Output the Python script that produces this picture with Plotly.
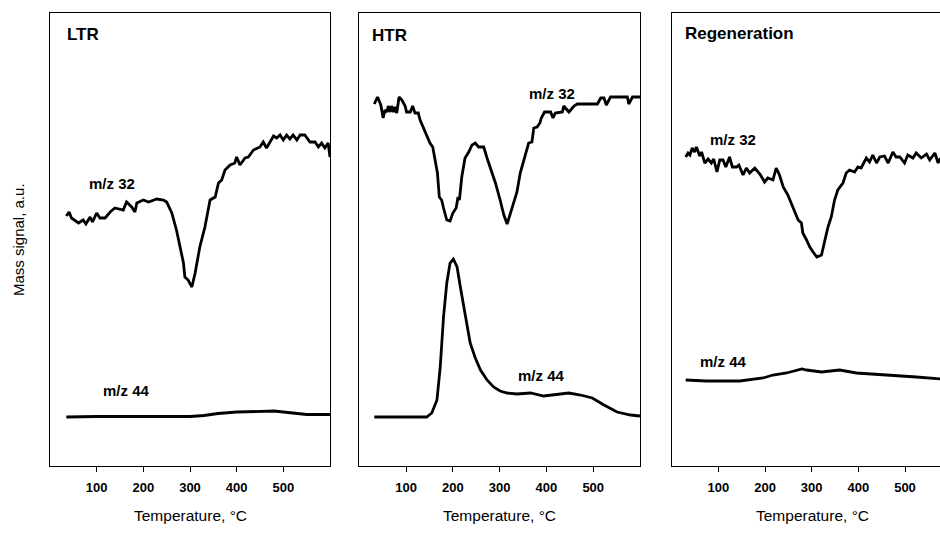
import plotly.graph_objects as go

# ---------------- data (temperature in °C, mass signal in a.u.) ----------------
ltr_t32 = [35, 41, 46, 61, 71, 77, 86, 91, 100, 107, 118, 129, 139, 157, 164, 175, 182, 186, 200, 211,
           229, 243, 250, 261, 271, 279, 286, 289, 296, 304, 311, 321, 332, 343, 354, 361, 368, 375, 386,
           396, 400, 407, 418, 425, 436, 450, 457, 464, 471, 479, 486, 493, 500, 507, 514, 521, 529, 536,
           546, 557, 568, 575, 582, 589, 596, 600]
ltr_s32 = [250, 254, 248, 243, 246, 242, 249, 244, 253, 248, 248, 254, 258, 256, 264, 259, 254, 263, 266, 264,
           267, 266, 264, 253, 236, 219, 203, 189, 186, 179, 193, 219, 239, 266, 269, 283, 286, 296, 301,
           303, 309, 301, 308, 309, 316, 319, 324, 318, 324, 330, 328, 331, 326, 331, 327, 331, 326, 331,
           331, 324, 324, 319, 323, 318, 323, 309]
ltr_t44 = [35, 100, 200, 300, 330, 360, 400, 450, 480, 520, 550, 600]
ltr_s44 = [49, 49.5, 49.5, 49.5, 50.5, 52.5, 54, 55, 55, 53, 51.5, 51.5]

htr_t32 = [32, 39, 46, 51, 55, 59, 62, 66, 69, 73, 76, 80, 85, 91, 98, 101, 109, 114, 119, 126, 130, 137,
           141, 146, 151, 157, 162, 167, 171, 176, 180, 184, 187, 194, 200, 207, 211, 214, 219, 226, 234,
           241, 248, 255, 266, 273, 284, 291, 301, 309, 316, 323, 330, 337, 344, 353, 362, 369, 373, 380,
           386, 389, 396, 409, 414, 419, 434, 437, 448, 459, 466, 509, 516, 523, 528, 537, 544, 573, 576,
           584, 600]
htr_s32 = [362, 369, 361, 348, 356, 354, 360, 354, 360, 354, 359, 353, 369, 366, 360, 354, 354, 360, 353, 353,
           346, 338, 333, 329, 323, 319, 306, 293, 269, 266, 258, 251, 246, 245, 253, 258, 269, 266, 289,
           308, 314, 321, 323, 319, 319, 308, 293, 283, 266, 251, 242, 253, 264, 274, 293, 309, 323, 324,
           338, 339, 343, 348, 354, 354, 348, 353, 354, 360, 354, 360, 362, 362, 368, 368, 361, 369, 369,
           369, 362, 369, 369]
htr_t44 = [32, 66, 144, 155, 166, 173, 180, 187, 194, 201, 209, 216, 223, 230, 237, 248, 259, 273, 287,
           301, 316, 337, 366, 394, 423, 448, 473, 498, 523, 551, 580, 600]
htr_s44 = [49, 49, 49, 53, 66, 99, 149, 183, 203, 207, 199, 179, 159, 139, 123, 108, 96, 86, 79,
           75, 73, 72, 73, 70, 72, 73, 71, 68, 61, 54, 51, 50]

reg_t32 = [30, 35, 39, 44, 49, 53, 60, 64, 71, 78, 85, 90, 97, 103, 110, 116, 124, 130, 139, 144, 153, 160,
           167, 178, 189, 199, 206, 217, 224, 231, 239, 249, 256, 264, 271, 278, 281, 289, 296, 303, 311,
           321, 328, 335, 342, 349, 356, 367, 374, 381, 392, 399, 406, 417, 424, 431, 439, 446, 456, 464,
           474, 481, 489, 499, 506, 517, 524, 535, 546, 553, 564, 571, 576]
reg_s32 = [309, 313, 311, 318, 314, 319, 310, 314, 303, 307, 303, 307, 294, 306, 306, 299, 309, 299, 299, 301,
           291, 298, 293, 298, 292, 284, 288, 286, 298, 291, 279, 271, 263, 253, 246, 243, 233, 226, 219,
           214, 209, 211, 226, 239, 249, 266, 276, 283, 293, 296, 294, 299, 298, 308, 304, 311, 303, 309,
           310, 303, 314, 309, 309, 303, 311, 308, 313, 308, 312, 306, 313, 303, 308]
reg_t44 = [30, 74, 146, 196, 217, 246, 279, 289, 321, 360, 396, 467, 524, 576]
reg_s44 = [86, 85, 85, 88, 91, 93, 97, 96, 94, 96, 93, 91, 89, 87]

panel_names = ["LTR", "HTR", "Regeneration"]
tick_values = [100, 200, 300, 400, 500]
x_title = "Temperature, °C"
y_title = "Mass signal, a.u."

# ---------------- figure ----------------
W, H = 940, 543
top_px, bot_px = 13, 466
ydom = [(H - bot_px) / H, (H - top_px) / H]
xdoms = [[50 / W, 330 / W], [359.3 / W, 640 / W], [671.7 / W, 1.0]]
xranges = [[0, 600], [0, 600], [0, 575]]

FONT = "Liberation Sans, Arial, sans-serif"
LINE = dict(color="black", width=2.8)

fig = go.Figure()
series = [(ltr_t32, ltr_s32, ltr_t44, ltr_s44),
          (htr_t32, htr_s32, htr_t44, htr_s44),
          (reg_t32, reg_s32, reg_t44, reg_s44)]
for i, (t32, s32, t44, s44) in enumerate(series):
    xa = "x" if i == 0 else f"x{i+1}"
    ya = "y" if i == 0 else f"y{i+1}"
    fig.add_trace(go.Scatter(x=t32, y=s32, mode="lines", line=LINE, xaxis=xa, yaxis=ya,
                             showlegend=False, hoverinfo="skip"))
    fig.add_trace(go.Scatter(x=t44, y=s44, mode="lines", line=LINE, xaxis=xa, yaxis=ya,
                             showlegend=False, hoverinfo="skip"))

layout = dict(width=W, height=H, margin=dict(l=0, r=0, t=0, b=0),
              plot_bgcolor="white", paper_bgcolor="white",
              font=dict(family=FONT, color="black"))
for i in range(3):
    sx = "" if i == 0 else str(i + 1)
    layout["xaxis" + sx] = dict(domain=xdoms[i], range=xranges[i], anchor="y" + sx,
                                showgrid=False, zeroline=False, showline=True, linecolor="black",
                                linewidth=1, mirror=True, ticks="outside", ticklen=5, tickwidth=1,
                                tickcolor="black", tickvals=tick_values,
                                tickfont=dict(size=13, family=FONT, weight="bold"),
                                ticklabelstandoff=4)
    layout["yaxis" + sx] = dict(domain=ydom, range=[0, 453], anchor="x" + sx,
                                showgrid=False, zeroline=False, showline=True, linecolor="black",
                                linewidth=1, mirror=(i < 2), showticklabels=False, ticks="")
fig.update_layout(**layout)

ann = []
# panel titles
title_pos = [(32, 432), (23, 431), (24, 433)]
for i, name in enumerate(panel_names):
    sx = "" if i == 0 else str(i + 1)
    ann.append(dict(x=title_pos[i][0], y=title_pos[i][1], xref="x" + sx, yref="y" + sx, text=name,
                    showarrow=False, xanchor="left", yanchor="middle",
                    font=dict(size=17, family=FONT, weight="bold")))
# series labels
lab = [(133, 283, 163, 76), (411, 373, 390, 91), (131, 327, 112, 105)]
for i, (a, b, c, d) in enumerate(lab):
    sx = "" if i == 0 else str(i + 1)
    ann.append(dict(x=a, y=b, xref="x" + sx, yref="y" + sx, text="m/z 32", showarrow=False,
                    font=dict(size=15, family=FONT, weight="bold")))
    ann.append(dict(x=c, y=d, xref="x" + sx, yref="y" + sx, text="m/z 44", showarrow=False,
                    font=dict(size=15, family=FONT, weight="bold")))
# axis titles
for cx in [190, 499.6, 812]:
    ann.append(dict(x=cx / W, y=(H - 515) / H, xref="paper", yref="paper", text=x_title,
                    showarrow=False, xanchor="center", yanchor="middle",
                    font=dict(size=15.5, family=FONT)))
ann.append(dict(x=18 / W, y=(H - 240) / H, xref="paper", yref="paper", text=y_title, textangle=-90,
                showarrow=False, xanchor="center", yanchor="middle", font=dict(size=15, family=FONT)))
fig.update_layout(annotations=ann)

fig.write_html("out.html", config={"displayModeBar": False},
               post_script="document.body.style.margin='0';document.body.style.overflow='hidden';")
